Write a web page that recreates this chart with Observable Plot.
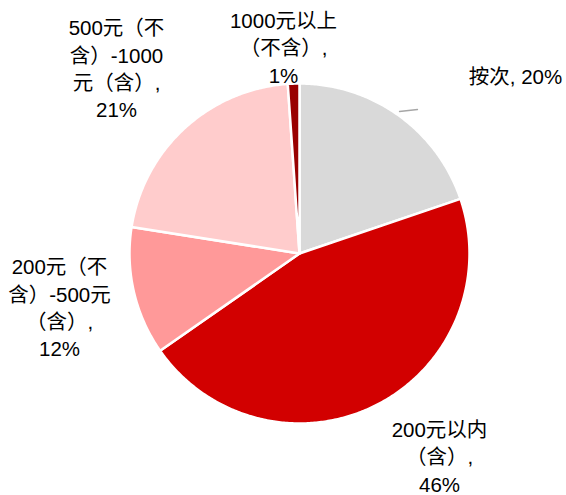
<!DOCTYPE html>
<html>
<head>
<meta charset="utf-8">
<script src="https://cdn.jsdelivr.net/npm/d3@7"></script>
<script src="https://cdn.jsdelivr.net/npm/@observablehq/plot@0.6"></script>
<style>
  html, body { margin: 0; padding: 0; background: #fff; }
  #chart { width: 566px; height: 495px; }
</style>
</head>
<body>
<div id="chart"></div>
<script>
// ---- data ----
const categories = ["按次", "200元以内（含）", "200元（不含）-500元（含）", "500元（不含）-1000元（含）", "1000元以上（不含）"];
// slice sizes (labels show the rounded values)
const shares = [19.8, 45.5, 12.2, 21.4, 1.1];
const labelTexts = [
  "按次, 20%",
  "200元以内\n（含）,\n46%",
  "200元（不\n含）-500元\n（含）,\n12%",
  "500元（不\n含）-1000\n元（含）,\n21%",
  "1000元以上\n（不含）,\n1%"
];
const sliceColors = ["#d9d9d9", "#d20000", "#ff9999", "#ffcccc", "#990000"];

// ---- layout (pixels) ----
const W = 566, H = 495;
const cx = 299, cy = 253, R = 170;
const labelPx = [[515, 75], [439, 455], [59, 306], [116, 67], [283, 46]];
const leaderPx = [[399, 111], [417, 109]];

const toU = ([px, py]) => [(px - cx) / R, (cy - py) / R];

// ---- geometry from data ----
const arcs = d3.pie().sort(null).value(d => d.share)(categories.map((c, i) => ({cat: c, share: shares[i]})));
const slicePts = [];
arcs.forEach(a => {
  const cat = a.data.cat;
  slicePts.push({cat, x: 0, y: 0});
  const n = Math.max(2, Math.ceil((a.endAngle - a.startAngle) / 0.01));
  for (let k = 0; k <= n; k++) {
    const t = a.startAngle + (a.endAngle - a.startAngle) * k / n;
    slicePts.push({cat, x: Math.sin(t), y: Math.cos(t)});
  }
  slicePts.push({cat, x: 0, y: 0});
});

const labels = categories.map((c, i) => {
  const [x, y] = toU(labelPx[i]);
  return {cat: c, x, y, text: labelTexts[i]};
});
const leader = leaderPx.map(p => { const [x, y] = toU(p); return {x, y}; });

const chart = Plot.plot({
  width: W, height: H,
  margin: 0,
  x: {domain: [-cx / R, (W - cx) / R], axis: null},
  y: {domain: [-(H - cy) / R, cy / R], axis: null},
  color: {domain: categories, range: sliceColors},
  style: {background: "#fff"},
  marks: [
    Plot.line(slicePts, {x: "x", y: "y", z: "cat", fill: "cat", stroke: "#fff", strokeWidth: 2.5, strokeLinejoin: "round", curve: "linear"}),
    Plot.line(leader, {x: "x", y: "y", stroke: "#a6a6a6", strokeWidth: 1.3}),
    Plot.text(labels, {x: "x", y: "y", text: "text", textAnchor: "middle", lineAnchor: "middle", lineHeight: 1.34,
      fontSize: 20.5, fill: "#000", fontFamily: "'Liberation Sans', Arial, 'Noto Sans CJK SC', sans-serif"})
  ]
});
document.getElementById("chart").appendChild(chart);
</script>
</body>
</html>
